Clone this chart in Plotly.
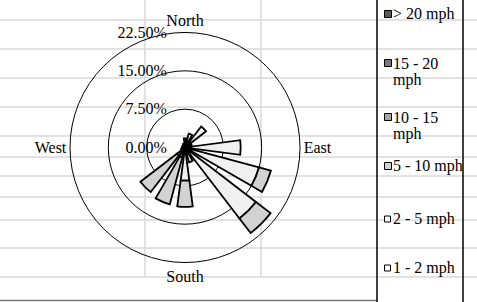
import plotly.graph_objects as go

# ---- data -------------------------------------------------------------
directions = [0, 22.5, 45, 67.5, 90, 112.5, 135, 157.5,
              180, 202.5, 225, 247.5, 270, 292.5, 315, 337.5]
speed_labels = ["1 - 2 mph", "2 - 5 mph", "5 - 10 mph",
                "10 - 15 mph", "15 - 20 mph", "> 20 mph"]
# percentage of time per direction for each speed class
s_1_2   = [0.5, 0.5, 0.5, 0.4, 0.8, 0.8, 0.8, 0.5, 0.5, 0.5, 0.5, 0.3, 0.3, 0.3, 0.3, 0.3]
s_2_5   = [1.3, 2.3, 4.7, 1.0, 10.1, 14.2, 16.7, 2.5, 6.0, 1.5, 1.5, 0.5, 0.3, 0.2, 0.3, 0.5]
s_5_10  = [0, 0, 0, 0, 0, 2.4, 3.6, 0, 5.1, 9.5, 9.0, 0, 0, 0, 0, 0]
s_10_15 = [0] * 16
s_15_20 = [0] * 16
s_20p   = [0] * 16
series = [s_1_2, s_2_5, s_5_10, s_10_15, s_15_20, s_20p]
colors = ["#ffffff", "#f0f0f0", "#d2d2d2", "#a6a6a6", "#7a7a7a", "#5a5a5a"]

radial_ticks = [0, 7.5, 15, 22.5]
radial_labels = ["0.00%", "7.50%", "15.00%", "22.50%"]
compass_vals = [0, 90, 180, 270]
compass_labels = ["North", "East", "South", "West"]

legend_lines = [["> 20 mph"], ["15 - 20", "mph"], ["10 - 15", "mph"],
                ["5 - 10 mph"], ["2 - 5 mph"], ["1 - 2 mph"]]
legend_colors = ["#5a5a5a", "#7a7a7a", "#a6a6a6", "#d2d2d2", "#ffffff", "#ffffff"]

# ---- figure ------------------------------------------------------------
W, H = 477, 302
FONT = "Liberation Serif, serif"

def px(x):
    return x / W

def py(y):
    return 1 - y / H

fig = go.Figure()
for name, vals, col in zip(speed_labels, series, colors):
    fig.add_trace(go.Barpolar(
        r=vals, theta=directions, width=15, name=name,
        marker=dict(color=col, line=dict(color="black", width=1.8)),
        showlegend=False,
    ))

cx, cy, R = 185, 147.5, 115
shapes = []
grid = "#d9d9d9"
for y in [20, 49, 78, 107, 136, 157, 176, 197, 220, 248, 277]:
    shapes.append(dict(type="line", xref="paper", yref="paper", x0=0, x1=1,
                       y0=py(y), y1=py(y), line=dict(color=grid, width=1.5), layer="below"))
for x in [145, 261]:
    shapes.append(dict(type="line", xref="paper", yref="paper", x0=px(x), x1=px(x),
                       y0=py(0), y1=py(277), line=dict(color=grid, width=1.5), layer="below"))
# chart bottom border and legend borders
shapes.append(dict(type="line", xref="paper", yref="paper", x0=0, x1=px(377),
                   y0=py(300.5), y1=py(300.5), line=dict(color="#777777", width=1.5)))
for x in [377, 463]:
    shapes.append(dict(type="line", xref="paper", yref="paper", x0=px(x), x1=px(x),
                       y0=0, y1=1, line=dict(color="black", width=1.5)))

annotations = []
leg_y = [14, 63, 117, 166, 219, 268]
leg_size = [7, 7, 7, 7, 6, 6]
for lines, col, y, s in zip(legend_lines, legend_colors, leg_y, leg_size):
    shapes.append(dict(type="rect", xref="paper", yref="paper",
                       x0=px(384.5), x1=px(384.5 + s), y0=py(y + s / 2), y1=py(y - s / 2),
                       fillcolor=col, line=dict(color="black", width=1)))
    for i, txt in enumerate(lines):
        annotations.append(dict(xref="paper", yref="paper", x=px(391.5), y=py(y + 17 * i),
                                xanchor="left", yanchor="middle", borderpad=0,
                                text=txt, showarrow=False, align="left", width=71.5,
                                font=dict(family=FONT, size=16, color="black")))

fig.update_layout(
    width=W, height=H, margin=dict(l=0, r=0, t=0, b=0),
    paper_bgcolor="white", plot_bgcolor="white",
    font=dict(family=FONT, size=16, color="black"),
    shapes=shapes, annotations=annotations,
    polar=dict(
        domain=dict(x=[px(cx - R), px(cx + R)], y=[py(cy + R), py(cy - R)]),
        bgcolor="rgba(0,0,0,0)",
        barmode="stack",
        radialaxis=dict(range=[0, 22.5], tickvals=radial_ticks, ticktext=radial_labels,
                        angle=90, side="counterclockwise", tickangle=90,
                        ticks="outside", ticklen=12, tickcolor="rgba(0,0,0,0)",
                        showline=False, showgrid=True, gridcolor="black", gridwidth=1,
                        tickfont=dict(family=FONT, size=16, color="black")),
        angularaxis=dict(direction="clockwise", rotation=90,
                         tickvals=compass_vals, ticktext=compass_labels,
                         showgrid=False, showline=True, linecolor="black", linewidth=1,
                         ticks="", tickfont=dict(family=FONT, size=16, color="black")),
    ),
)

fig.write_html("out.html", config={"displayModeBar": False},
               post_script="document.body.style.margin='0';document.body.style.overflow='hidden';")
